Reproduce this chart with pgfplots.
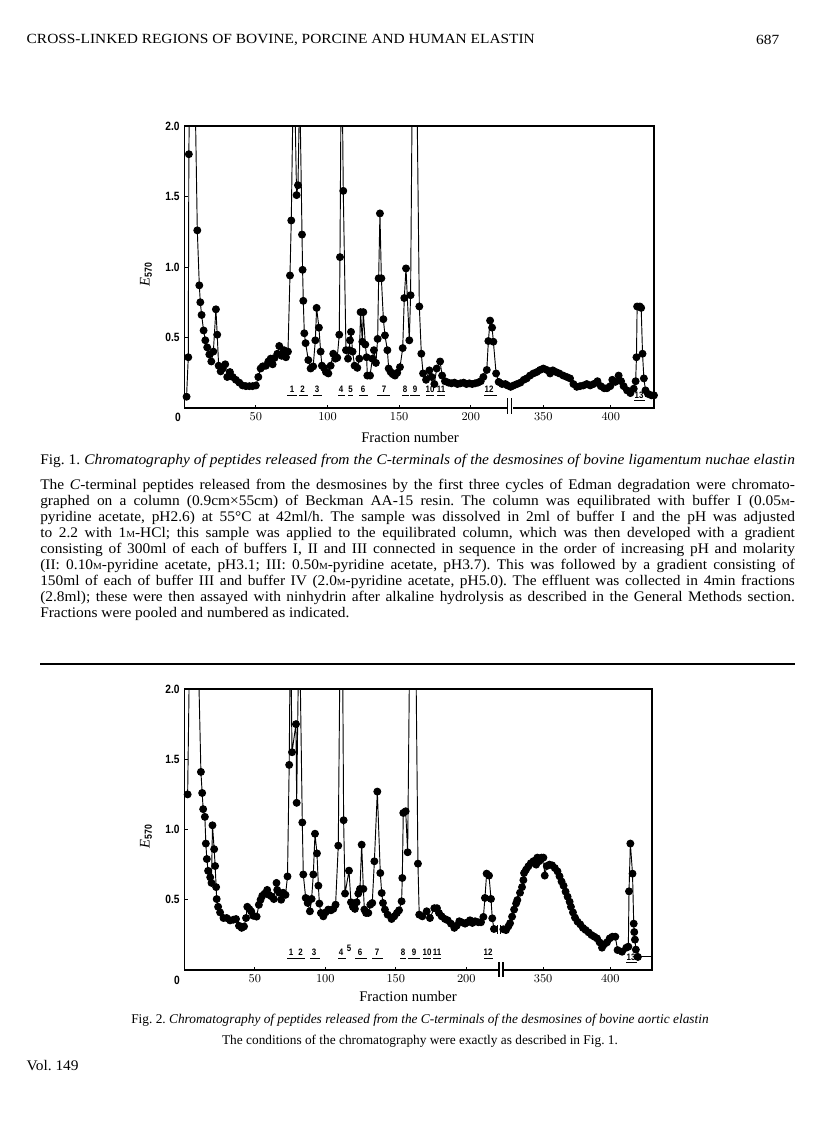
\documentclass[border=0pt]{standalone}
\usepackage{pgfplots}
\pgfplotsset{compat=1.18}
\usepackage{pgfplotstable}
\usepackage{fontspec}
\setmainfont{Liberation Serif}
\newfontfamily\bodyfont{Liberation Serif}[FakeStretch=1.05]
\newfontfamily\capfont{Liberation Serif}[FakeStretch=1.05]
\newfontfamily\headfont{Liberation Serif}[FakeStretch=1.1]
\newfontfamily\tickfont{Liberation Sans}[FakeStretch=0.85]
\newcommand{\M}{{\scriptsize M}}
\frenchspacing

\pgfplotstableread{
f E
1.6 0.08
2.8 0.36
3.2 1.80
5.0 3.5
7.0 2.6
9.1 1.26
10.5 0.87
11.2 0.75
12.1 0.66
13.5 0.55
14.7 0.48
16.0 0.43
17.5 0.38
18.9 0.33
20.3 0.40
22.1 0.70
23.0 0.52
24.0 0.30
25.4 0.26
26.8 0.28
28.6 0.31
30.0 0.22
31.9 0.255
33.8 0.22
36.0 0.20
38.4 0.18
40.7 0.16
43.0 0.155
45.4 0.155
47.7 0.155
50.0 0.16
51.7 0.22
53.3 0.28
54.7 0.295
57.0 0.30
58.7 0.33
60.3 0.35
61.7 0.31
63.0 0.355
65.0 0.385
66.3 0.44
68.0 0.37
69.6 0.41
71.0 0.36
72.4 0.40
73.8 0.94
74.7 1.33
76.5 2.6
78.4 1.51
79.4 1.58
80.6 2.3
82.2 1.23
82.6 0.98
83.1 0.76
83.8 0.53
84.7 0.46
86.6 0.34
88.2 0.28
90.0 0.295
91.5 0.48
92.4 0.71
94.0 0.57
95.2 0.40
96.1 0.30
97.5 0.285
98.9 0.255
100.6 0.245
102.2 0.30
104.0 0.385
105.5 0.35
106.8 0.357
108.2 0.52
108.7 1.07
109.8 2.8
111.0 1.54
112.9 0.41
114.3 0.35
115.2 0.41
115.7 0.48
116.4 0.54
117.5 0.40
118.9 0.30
120.8 0.285
122.2 0.35
123.1 0.68
124.3 0.47
125.0 0.68
126.4 0.45
127.3 0.36
127.8 0.23
129.7 0.23
131.3 0.35
132.4 0.41
133.8 0.32
135.0 0.49
135.7 0.92
136.6 1.38
137.6 0.92
139.0 0.63
140.1 0.515
141.8 0.41
142.7 0.28
144.1 0.255
145.5 0.24
147.1 0.23
148.7 0.25
150.6 0.29
152.5 0.425
153.6 0.78
154.8 0.99
157.1 0.48
158.0 0.80
160.5 4.0
164.1 0.72
165.5 0.385
166.7 0.245
168.8 0.20
171.1 0.267
172.7 0.22
174.6 0.17
176.2 0.28
178.6 0.33
180.0 0.23
182.0 0.19
184.4 0.18
186.5 0.175
188.6 0.18
190.7 0.17
192.8 0.175
195.0 0.18
197.0 0.17
199.0 0.175
201.0 0.17
203.0 0.175
205.0 0.18
207.0 0.19
208.8 0.22
211.2 0.27
212.3 0.475
213.5 0.62
214.9 0.57
215.8 0.47
217.7 0.245
219.5 0.185
221.9 0.17
224.2 0.17
225.6 0.16
}\figAleft

\pgfplotstableread{
f E
325.8 0.15
328.0 0.16
330.5 0.17
333.0 0.18
335.5 0.20
337.7 0.21
340.1 0.23
342.6 0.245
345.1 0.255
347.6 0.27
350.0 0.28
352.5 0.27
355.0 0.245
357.0 0.267
359.4 0.255
361.9 0.245
364.8 0.23
367.4 0.22
369.8 0.21
372.3 0.17
374.8 0.15
377.2 0.155
379.7 0.16
382.2 0.17
384.7 0.16
387.2 0.17
390.1 0.19
392.6 0.155
395.1 0.14
397.1 0.14
399.6 0.155
401.1 0.20
403.3 0.185
405.8 0.23
407.6 0.19
409.5 0.155
412.0 0.125
414.5 0.106
417.0 0.137
418.4 0.19
419.0 0.36
419.5 0.72
421.5 0.72
422.5 0.71
423.5 0.385
424.5 0.21
425.7 0.125
427.5 0.10
430.0 0.09
432.0 0.09
}\figAright

\pgfplotstableread{
f E
2.4 1.25
6.0 4.0
11.8 1.41
12.7 1.26
13.4 1.145
14.6 1.09
15.3 0.90
16.0 0.79
16.9 0.706
18.4 0.66
19.3 0.62
20.0 1.03
21.2 0.86
21.9 0.74
22.6 0.59
23.0 0.505
24.0 0.45
25.4 0.41
27.8 0.37
30.1 0.37
32.5 0.353
34.8 0.358
36.7 0.363
38.8 0.315
40.7 0.30
42.4 0.31
43.8 0.37
44.7 0.45
46.1 0.434
47.5 0.417
48.9 0.386
51.3 0.38
52.9 0.464
54.1 0.50
55.3 0.528
56.9 0.543
58.8 0.57
60.0 0.535
61.9 0.524
63.5 0.505
65.4 0.62
65.9 0.57
67.3 0.55
68.7 0.50
70.1 0.55
71.8 0.535
73.2 0.666
74.4 1.46
75.3 2.5
76.4 1.55
79.2 1.75
79.7 1.19
81.5 2.6
83.7 1.05
84.4 0.68
86.1 0.513
87.5 0.477
89.1 0.418
90.3 0.506
91.5 0.68
92.7 0.97
94.1 0.83
95.1 0.60
95.8 0.473
96.9 0.406
98.6 0.382
100.2 0.41
102.1 0.43
104.0 0.425
105.7 0.435
107.3 0.465
109.2 0.885
111.5 3.5
113.0 1.066
114.0 0.544
116.8 0.707
118.2 0.482
119.6 0.449
121.0 0.435
122.2 0.482
123.4 0.544
124.6 0.577
125.8 0.892
127.0 0.577
127.7 0.43
128.9 0.406
130.5 0.406
131.9 0.465
133.3 0.477
134.8 0.774
136.9 1.27
139.0 0.69
140.0 0.548
140.9 0.477
142.3 0.43
144.2 0.394
147.0 0.363
148.9 0.382
150.8 0.406
152.3 0.425
154.1 0.489
154.6 0.655
155.3 1.118
157.0 1.13
158.4 0.838
162.0 4.5
165.7 0.757
166.6 0.394
168.8 0.382
171.9 0.418
174.2 0.37
177.3 0.44
179.2 0.44
180.6 0.406
182.5 0.382
184.9 0.363
186.8 0.354
189.1 0.33
191.5 0.30
193.2 0.316
195.0 0.347
196.7 0.34
199.1 0.33
200.9 0.34
202.6 0.354
204.3 0.335
206.2 0.347
208.5 0.34
210.4 0.34
212.1 0.378
213.2 0.513
214.4 0.686
216.1 0.672
217.5 0.506
218.4 0.368
219.6 0.292
}\figBleft

\pgfplotstableread{
f E
320.4 0.29
322.4 0.284
324.1 0.31
325.4 0.333
326.9 0.38
328.4 0.43
329.9 0.474
330.8 0.498
332.8 0.55
334.3 0.59
335.3 0.64
335.8 0.69
337.3 0.714
339.0 0.738
340.8 0.76
342.8 0.775
344.8 0.75
345.7 0.80
347.2 0.775
348.7 0.80
350.2 0.80
351.2 0.672
352.7 0.74
354.7 0.75
356.7 0.745
358.7 0.726
360.7 0.702
362.2 0.667
363.7 0.63
365.2 0.60
366.7 0.558
368.2 0.522
369.7 0.486
370.7 0.45
372.2 0.41
373.7 0.373
375.6 0.344
377.6 0.325
379.6 0.30
381.6 0.285
383.8 0.268
386.0 0.249
388.1 0.237
390.1 0.225
392.0 0.197
393.8 0.159
395.5 0.183
397.5 0.197
399.5 0.225
401.5 0.237
403.7 0.237
405.4 0.142
408.7 0.13
411.9 0.159
413.4 0.166
413.9 0.56
414.9 0.90
416.5 0.686
417.4 0.33
417.8 0.27
418.3 0.216
419.0 0.145
420.5 0.093
}\figBright

\pgfplotsset{
  chrom/.style={
    scale only axis, ymin=0, ymax=2,
    axis line style={draw=none},
    tick align=inside, major tick length=2.5pt,
    tick style={line width=0.6pt, black},
    xtick pos=bottom, ytick pos=left,
    ticklabel style={font=\tickfont\bfseries\fontsize{9}{9}\selectfont},
    clip=true,
  },
  dots/.style={line width=0.7pt, black, mark=*, mark size=2.6pt, mark options={fill=black, solid}},
}
\newcommand{\plab}{\tickfont\bfseries\fontsize{7}{7}\selectfont}

\begin{document}
\begin{tikzpicture}[x=0.75pt,y=-0.75pt]
\path[use as bounding box] (0,0) rectangle (816,1136);

% page header
\node[anchor=west, font=\headfont\fontsize{10.5}{12}\selectfont] at (22,40) {CROSS-LINKED REGIONS OF BOVINE, PORCINE AND HUMAN ELASTIN};
\node[anchor=east, font=\headfont\fontsize{10.5}{12}\selectfont] at (784,40) {687};

% ---------------- Fig. 1 ----------------
\begin{axis}[chrom, at={(138.2pt,-306pt)}, anchor=south west,
  width=244.3pt, height=211.5pt, xmin=0, xmax=227.4,
  xtick={50,100,150,200}, ytick={0.5,1,1.5,2}, yticklabels={0.5,1.0,1.5,2.0}]
\addplot[dots] table[x=f,y=E] {\figAleft};
\end{axis}
\begin{axis}[chrom, at={(382.5pt,-306pt)}, anchor=south west,
  width=108pt, height=211.5pt, xmin=325.3, xmax=432,
  xtick={350,400}, ytick=\empty]
\addplot[dots] table[x=f,y=E] {\figAright};
\end{axis}
\draw[line width=0.8pt] (184.3,126) rectangle (654,408);
\fill[white] (507,400) rectangle (513,416);
\draw[line width=0.8pt] (507.5,398)--(507.5,414) (511.5,398)--(511.5,414);
\node[font=\tickfont\bfseries\fontsize{9}{9}\selectfont] at (178,417) {0};
\node[rotate=90, font=\fontsize{11}{12}\selectfont] at (146,274) {\textit{E}\textsubscript{\tickfont\bfseries 570}};
\node[font=\fontsize{11}{12}\selectfont] at (410,437) {Fraction number};
\foreach \x/\t/\a/\b in {292/1/287/297, 302.7/2/299/308, 317/3/313/322, 341/4/338/345, 350.7/5/348/353, 363/6/359/368, 384/7/377/390, 405/8/402/409, 415/9/410/420, 430/10/426/434, 441/11/437/445, 489/12/484/497}
{\node[anchor=base, inner sep=0pt, font=\plab] at (\x,392) {\t};
 \draw[line width=0.6pt] (\a,395)--(\b,395);}
\node[anchor=base, inner sep=0pt, font=\plab] at (639,398) {13};
\draw[line width=0.6pt] (634,400)--(645,400);

% caption and legend text
\node[anchor=west, inner sep=0pt, font=\capfont\fontsize{11}{12}\selectfont] at (40,461) {\makebox[566pt][s]{Fig. 1. \textit{Chromatography of peptides released from the C-terminals of the desmosines of bovine ligamentum nuchae elastin}}};
\node[anchor=north west, inner sep=0pt, align=left, font=\bodyfont\fontsize{11}{12}\selectfont] at (40,479) {%
\makebox[566pt][s]{The \textit{C}-terminal peptides released from the desmosines by the first three cycles of Edman degradation were chromato-}\\
\makebox[566pt][s]{graphed on a column (0.9cm×55cm) of Beckman AA-15 resin. The column was equilibrated with buffer I (0.05\M-}\\
\makebox[566pt][s]{pyridine acetate, pH2.6) at 55°C at 42ml/h. The sample was dissolved in 2ml of buffer I and the pH was adjusted}\\
\makebox[566pt][s]{to 2.2 with 1\M-HCl; this sample was applied to the equilibrated column, which was then developed with a gradient}\\
\makebox[566pt][s]{consisting of 300ml of each of buffers I, II and III connected in sequence in the order of increasing pH and molarity}\\
\makebox[566pt][s]{(II: 0.10\M-pyridine acetate, pH3.1; III: 0.50\M-pyridine acetate, pH3.7). This was followed by a gradient consisting of}\\
\makebox[566pt][s]{150ml of each of buffer III and buffer IV (2.0\M-pyridine acetate, pH5.0). The effluent was collected in 4min fractions}\\
\makebox[566pt][s]{(2.8ml); these were then assayed with ninhydrin after alkaline hydrolysis as described in the General Methods section.}\\
Fractions were pooled and numbered as indicated.};

\draw[line width=1pt] (40,664)--(795,664);

% ---------------- Fig. 2 ----------------
\begin{axis}[chrom, at={(138.2pt,-727.5pt)}, anchor=south west,
  width=238.3pt, height=210.75pt, xmin=0, xmax=225.3,
  xtick={50,100,150,200}, ytick={0.5,1,1.5,2}, yticklabels={0.5,1.0,1.5,2.0}]
\addplot[dots] table[x=f,y=E] {\figBleft};
\end{axis}
\begin{axis}[chrom, at={(376.5pt,-727.5pt)}, anchor=south west,
  width=112.5pt, height=210.75pt, xmin=319.4, xmax=431,
  xtick={350,400}, ytick=\empty]
\addplot[dots] table[x=f,y=E] {\figBright};
\addplot[line width=0.7pt, black, no marks] coordinates {(420.5,0.093) (431,0.093)};
\end{axis}
\draw[line width=0.8pt] (184.3,689) rectangle (652,970);
\fill[white] (498,962) rectangle (504,978);
\draw[line width=0.8pt] (499,962)--(499,977) (503,962)--(503,977);
\draw[line width=0.6pt] (497.5,925)--(497.5,934) (500.5,925)--(500.5,934);
\node[font=\tickfont\bfseries\fontsize{9}{9}\selectfont] at (177,980) {0};
\node[rotate=90, font=\fontsize{11}{12}\selectfont] at (146,836) {\textit{E}\textsubscript{\tickfont\bfseries 570}};
\node[font=\fontsize{11}{12}\selectfont] at (408,996) {Fraction number};
\foreach \x/\t/\a/\b in {291/1/287/297, 300.7/2/297/305, 314/3/310/320, 341/4/338/346, 360/6/355/367, 377/7/372/383, 403/8/400/406, 414/9/408/420, 427/10/423/431, 437/11/433/441, 488/12/484/493}
{\node[anchor=base, inner sep=0pt, font=\plab] at (\x,955) {\t};
 \draw[line width=0.6pt] (\a,958)--(\b,958);}
\node[anchor=base, inner sep=0pt, font=\plab] at (349,951) {5};
\node[anchor=base, inner sep=0pt, font=\plab] at (631,960) {13};
\draw[line width=0.6pt] (626,962)--(637,962);

\node[font=\fontsize{10}{12}\selectfont] at (420,1020) {Fig. 2. \textit{Chromatography of peptides released from the C-terminals of the desmosines of bovine aortic elastin}};
\node[font=\fontsize{10}{12}\selectfont] at (420,1041) {The conditions of the chromatography were exactly as described in Fig. 1.};
\node[anchor=west, font=\bodyfont\fontsize{11}{12}\selectfont] at (22,1066) {Vol. 149};
\end{tikzpicture}
\end{document}
